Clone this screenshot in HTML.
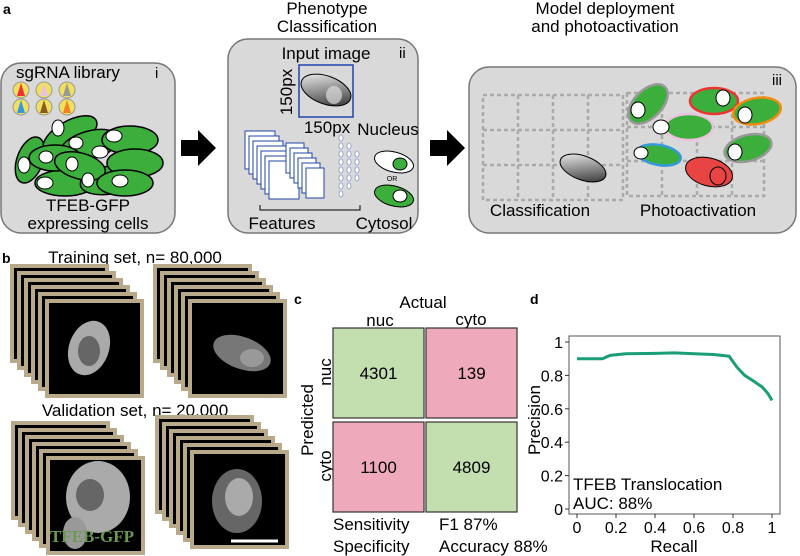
<!DOCTYPE html>
<html><head><meta charset="utf-8"><style>
body{margin:0;background:#fff;}
svg{display:block;font-family:"Liberation Sans",Arial,sans-serif;}
</style></head><body>
<svg width="800" height="556" viewBox="0 0 800 556">
<defs>
<linearGradient id="gcell" x1="0" y1="0" x2="1" y2="1"><stop offset="0" stop-color="#fff"/><stop offset="1" stop-color="#222"/></linearGradient>
</defs>
<!-- Panel a -->
<text x="3" y="14" font-size="14" font-weight="bold">a</text>
<g>
<rect x="1" y="63" width="174" height="170" rx="20" fill="#d9d9d9" stroke="#777" stroke-width="1.5"/>
<text x="16" y="78" font-size="17">sgRNA library</text>
<text x="155" y="78" font-size="15">i</text>
<g>
<circle cx="21" cy="90" r="8" fill="#f0e060" stroke="#999"/><path d="M21 83 L25 96 L17 96Z" fill="#e33"/>
<circle cx="44" cy="90" r="8" fill="#f0e060" stroke="#999"/><path d="M44 83 L48 96 L40 96Z" fill="#e8c0e0"/>
<circle cx="67" cy="90" r="8" fill="#f0e060" stroke="#999"/><path d="M67 83 L71 96 L63 96Z" fill="#999"/>
<circle cx="21" cy="107" r="8" fill="#f0e060" stroke="#999"/><path d="M21 100 L25 113 L17 113Z" fill="#3399dd"/>
<circle cx="44" cy="107" r="8" fill="#f0e060" stroke="#999"/><path d="M44 100 L48 113 L40 113Z" fill="#8a5a20"/>
<circle cx="67" cy="107" r="8" fill="#f0e060" stroke="#999"/><path d="M67 100 L71 113 L63 113Z" fill="#f08020"/>
</g>
<g fill="#3cae3c" stroke="#000" stroke-width="1.5">
<ellipse cx="30" cy="160" rx="13" ry="24" transform="rotate(20 30 160)"/>
<ellipse cx="65" cy="183" rx="30" ry="13"/>
<ellipse cx="110" cy="180" rx="30" ry="14" transform="rotate(-10 110 180)"/>
<ellipse cx="70" cy="135" rx="30" ry="14" transform="rotate(-30 70 135)"/>
<ellipse cx="90" cy="145" rx="30" ry="14" transform="rotate(-15 90 145)"/>
<ellipse cx="130" cy="140" rx="28" ry="14"/>
<ellipse cx="135" cy="163" rx="28" ry="14"/>
<ellipse cx="55" cy="158" rx="26" ry="13"/>
<ellipse cx="80" cy="166" rx="26" ry="13" transform="rotate(15 80 166)"/>
<ellipse cx="125" cy="183" rx="28" ry="13"/>
</g>
<g fill="#fff" stroke="#000">
<ellipse cx="24" cy="165" rx="6" ry="8"/><ellipse cx="45" cy="183" rx="8" ry="6"/><ellipse cx="58" cy="128" rx="6" ry="8"/>
<ellipse cx="76" cy="143" rx="7" ry="6"/><ellipse cx="46" cy="157" rx="7" ry="6"/><ellipse cx="72" cy="164" rx="6" ry="7"/>
<ellipse cx="114" cy="136" rx="8" ry="6"/><ellipse cx="100" cy="152" rx="8" ry="6"/><ellipse cx="120" cy="181" rx="8" ry="6"/><ellipse cx="88" cy="180" rx="6" ry="7"/>
</g>
<text x="88" y="211" font-size="17" text-anchor="middle">TFEB-GFP</text>
<text x="88" y="229" font-size="17" text-anchor="middle">expressing cells</text>
</g>
<path d="M181 140 L198 140 L198 130 L216 148 L198 166 L198 156 L181 156Z" fill="#000"/>
<text x="327" y="14" font-size="17" text-anchor="middle">Phenotype</text>
<text x="327" y="32" font-size="17" text-anchor="middle">Classification</text>
<g>
<rect x="228" y="39" width="190" height="194" rx="20" fill="#d9d9d9" stroke="#777" stroke-width="1.5"/>
<text x="326" y="59" font-size="17" text-anchor="middle">Input image</text>
<text x="399" y="58" font-size="15">ii</text>
<rect x="299" y="65" width="54" height="52" fill="none" stroke="#2244aa" stroke-width="1.5"/>
<ellipse cx="326" cy="90" rx="26" ry="14" transform="rotate(20 326 90)" fill="url(#gcell)" stroke="#000"/>
<ellipse cx="334" cy="95" rx="8" ry="9" fill="#ddd" opacity="0.7"/>
<text x="292" y="92" font-size="17" text-anchor="middle" transform="rotate(-90 292 92)">150px</text>
<text x="327" y="133" font-size="17" text-anchor="middle">150px</text>
<text x="388" y="135" font-size="17" text-anchor="middle">Nucleus</text>
<g fill="#fff" stroke="#2244aa">
<rect x="245" y="131" width="30" height="38"/><rect x="249" y="136" width="30" height="38"/><rect x="253" y="141" width="30" height="38"/><rect x="257" y="146" width="30" height="38"/><rect x="261" y="151" width="30" height="38"/><rect x="265" y="156" width="30" height="38"/><rect x="269" y="161" width="30" height="38"/>
<rect x="286" y="143" width="18" height="30"/><rect x="290" y="148" width="18" height="30"/><rect x="294" y="153" width="18" height="30"/><rect x="298" y="158" width="18" height="30"/><rect x="302" y="163" width="18" height="30"/><rect x="306" y="168" width="18" height="30"/>
</g>
<g fill="#fff" stroke="#8899cc" stroke-width="0.8">
<ellipse cx="341" cy="138" rx="2" ry="3"/><ellipse cx="341" cy="146" rx="2" ry="3"/><ellipse cx="341" cy="154" rx="2" ry="3"/><ellipse cx="341" cy="162" rx="2" ry="3"/><ellipse cx="341" cy="170" rx="2" ry="3"/><ellipse cx="341" cy="178" rx="2" ry="3"/><ellipse cx="341" cy="186" rx="2" ry="3"/><ellipse cx="341" cy="194" rx="2" ry="3"/>
<ellipse cx="349" cy="146" rx="2" ry="3"/><ellipse cx="349" cy="154" rx="2" ry="3"/><ellipse cx="349" cy="162" rx="2" ry="3"/><ellipse cx="349" cy="170" rx="2" ry="3"/><ellipse cx="349" cy="178" rx="2" ry="3"/><ellipse cx="349" cy="186" rx="2" ry="3"/>
<ellipse cx="357" cy="154" rx="2" ry="3"/><ellipse cx="357" cy="162" rx="2" ry="3"/><ellipse cx="357" cy="170" rx="2" ry="3"/><ellipse cx="357" cy="178" rx="2" ry="3"/>
</g>
<path d="M260 205 L260 210 L360 210 L360 205" fill="none" stroke="#000"/>
<ellipse cx="394" cy="162" rx="20" ry="10" transform="rotate(15 394 162)" fill="#fff" stroke="#000"/>
<ellipse cx="400" cy="164" rx="7" ry="6" fill="#3cae3c" stroke="#000"/>
<text x="392" y="181" font-size="7" text-anchor="middle">OR</text>
<ellipse cx="394" cy="196" rx="20" ry="10" transform="rotate(15 394 196)" fill="#3cae3c" stroke="#000"/>
<ellipse cx="400" cy="196" rx="7" ry="6" fill="#fff" stroke="#000"/>
<text x="282" y="229" font-size="17" text-anchor="middle">Features</text>
<text x="384" y="229" font-size="17" text-anchor="middle">Cytosol</text>
</g>
<path d="M430 140 L447 140 L447 130 L465 148 L447 166 L447 156 L430 156Z" fill="#000"/>
<text x="605" y="14" font-size="17" text-anchor="middle">Model deployment</text>
<text x="605" y="32" font-size="17" text-anchor="middle">and photoactivation</text>
<g>
<rect x="469" y="67" width="327" height="166" rx="20" fill="#d9d9d9" stroke="#777" stroke-width="1.5"/>
<text x="772" y="85" font-size="15">iii</text>
<g stroke="#aaa" stroke-width="2.5" stroke-dasharray="4 3" fill="none">
<rect x="483" y="95" width="140" height="105"/><line x1="518" y1="95" x2="518" y2="200"/><line x1="553" y1="95" x2="553" y2="200"/><line x1="588" y1="95" x2="588" y2="200"/><line x1="483" y1="130" x2="623" y2="130"/><line x1="483" y1="165" x2="623" y2="165"/>
<rect x="627" y="93" width="137" height="103"/><line x1="662" y1="93" x2="662" y2="196"/><line x1="697" y1="93" x2="697" y2="196"/><line x1="732" y1="93" x2="732" y2="196"/><line x1="627" y1="127" x2="764" y2="127"/><line x1="627" y1="161" x2="764" y2="161"/>
</g>
<ellipse cx="583" cy="168" rx="24" ry="12" transform="rotate(20 583 168)" fill="url(#gcell)" stroke="#000"/>
<g stroke-width="2.5">
<ellipse cx="648" cy="104" rx="14" ry="24" transform="rotate(45 648 104)" fill="#3cae3c" stroke="#999"/>
<ellipse cx="689" cy="127" rx="24" ry="13" fill="#3cae3c" stroke="#eec0e0"/>
<ellipse cx="714" cy="101" rx="24" ry="13" fill="#3cae3c" stroke="#e33"/>
<ellipse cx="757" cy="111" rx="24" ry="13" transform="rotate(-10 757 111)" fill="#3cae3c" stroke="#f08c10"/>
<ellipse cx="659" cy="155" rx="22" ry="10" transform="rotate(10 659 155)" fill="#3cae3c" stroke="#3399dd"/>
<ellipse cx="748" cy="148" rx="24" ry="13" transform="rotate(-15 748 148)" fill="#3cae3c" stroke="#999"/>
<ellipse cx="709" cy="172" rx="24" ry="14" transform="rotate(15 709 172)" fill="#e84444" stroke="#000" stroke-width="1"/>
</g>
<g fill="#fff" stroke="#000">
<ellipse cx="638" cy="110" rx="7" ry="8"/><ellipse cx="661" cy="127" rx="8" ry="7"/><ellipse cx="723" cy="98" rx="7" ry="8"/><ellipse cx="745" cy="115" rx="7" ry="8"/><ellipse cx="641" cy="153" rx="7" ry="6"/><ellipse cx="735" cy="152" rx="7" ry="8"/>
<ellipse cx="718" cy="176" rx="8" ry="9" fill="none"/>
</g>
<text x="540" y="216" font-size="17" text-anchor="middle">Classification</text>
<text x="698" y="216" font-size="17" text-anchor="middle">Photoactivation</text>
</g>
<!-- Panel b -->
<text x="2" y="263" font-size="14" font-weight="bold">b</text>
<text x="135" y="263" font-size="17" text-anchor="middle">Training set, n= 80,000</text>
<text x="135" y="416" font-size="17" text-anchor="middle">Validation set, n= 20,000</text>
<g id="stacks"></g>
<text x="92" y="542" font-size="17" font-weight="bold" fill="#6a9a50" font-family="Liberation Serif,serif" text-anchor="middle">TFEB-GFP</text>
<line x1="231" y1="541" x2="278" y2="541" stroke="#fff" stroke-width="3"/>
<!-- Panel c -->
<text x="294" y="304" font-size="14" font-weight="bold">c</text>
<text x="423" y="308" font-size="17" text-anchor="middle">Actual</text>
<text x="380" y="326" font-size="17" text-anchor="middle">nuc</text>
<text x="471" y="325" font-size="17" text-anchor="middle">cyto</text>
<text x="313" y="420" font-size="17" text-anchor="middle" transform="rotate(-90 313 420)">Predicted</text>
<text x="331" y="372" font-size="17" text-anchor="middle" transform="rotate(-90 331 372)">nuc</text>
<text x="331" y="466" font-size="17" text-anchor="middle" transform="rotate(-90 331 466)">cyto</text>
<g id="cm"></g>
<text x="333" y="530" font-size="17">Sensitivity</text>
<text x="439" y="530" font-size="17">F1 87%</text>
<text x="333" y="552" font-size="17">Specificity</text>
<text x="439" y="552" font-size="17">Accuracy 88%</text>
<!-- Panel d -->
<text x="530" y="304" font-size="14" font-weight="bold">d</text>
<g id="pr"></g>
</svg>
<script>
var cmValues=[[4301,139],[1100,4809]];
var prRecall=[0,0.13,0.17,0.25,0.4,0.5,0.6,0.7,0.78,0.82,0.86,0.9,0.95,0.98,1.0];
var prPrecision=[0.9,0.9,0.92,0.93,0.932,0.935,0.93,0.925,0.915,0.85,0.8,0.77,0.73,0.69,0.65];
var xTicks=[0,0.2,0.4,0.6,0.8,1];
var yTicks=[0,0.2,0.4,0.6,0.8,1];
var NS="http://www.w3.org/2000/svg";
function mk(t,a,p){var e=document.createElementNS(NS,t);for(var k in a)e.setAttribute(k,a[k]);p.appendChild(e);return e;}
var st=document.getElementById('stacks');
[[47,301,1],[190,301,2],[48,458,3],[192,452,4]].forEach(function(s){
 for(var i=5;i>=0;i--){
  var x=s[0]-i*7,y=s[1]-i*7;
  var r=mk('rect',{x:x,y:y,width:95,height:95,fill:'#000',stroke:'#b8a98a','stroke-width':4},st);
  
  
 }
 var cx=s[0]+47,cy=s[1]+47;
 if(s[2]==1){mk('ellipse',{cx:cx-5,cy:cy,rx:20,ry:28,fill:'#aaa',transform:'rotate(20 '+(cx-5)+' '+cy+')'},st);mk('ellipse',{cx:cx-5,cy:cy+3,rx:11,ry:15,fill:'#666'},st);}
 if(s[2]==2){mk('ellipse',{cx:cx+5,cy:cy+5,rx:30,ry:16,fill:'#777',transform:'rotate(20 '+(cx+5)+' '+(cy+5)+')'},st);mk('ellipse',{cx:cx+15,cy:cy+10,rx:12,ry:9,fill:'#999'},st);}
 if(s[2]==3){mk('ellipse',{cx:cx+3,cy:cy-8,rx:32,ry:36,fill:'#aaa'},st);mk('ellipse',{cx:cx-5,cy:cy-10,rx:14,ry:16,fill:'#666'},st);mk('ellipse',{cx:cx-20,cy:cy+28,rx:12,ry:16,fill:'#999'},st);}
 if(s[2]==4){mk('ellipse',{cx:cx-2,cy:cy+2,rx:25,ry:32,fill:'#666'},st);mk('ellipse',{cx:cx,cy:cy-2,rx:14,ry:19,fill:'#aaa'},st);}
});
var cm=document.getElementById('cm');
var cx0=[333,426],cy0=[328,422],cw=91,ch=90;
for(var r=0;r<2;r++)for(var c=0;c<2;c++){
 var rc=mk('rect',{x:cx0[c],y:cy0[r],width:cw,height:ch,fill:(r==c?'#c3dfb0':'#eeaabb'),stroke:'#333','stroke-width':1.2},cm);
 
 
 var t=mk('text',{x:cx0[c]+cw/2,y:cy0[r]+ch/2+6,'font-size':17,'text-anchor':'middle'},cm);t.textContent=cmValues[r][c];
 
 
}
var pr=document.getElementById('pr');
function X(v){return 577+v*195;}
function Y(v){return 509-v*167;}
mk('rect',{x:569,y:336,width:211,height:178,fill:'none',stroke:'#555','stroke-width':1},pr);
xTicks.forEach(function(v){mk('line',{x1:X(v),y1:514,x2:X(v),y2:518,stroke:'#333'},pr);var t=mk('text',{x:X(v),y:533,'font-size':16,'text-anchor':'middle'},pr);t.textContent=String(v);
 
 });
yTicks.forEach(function(v){mk('line',{x1:565,y1:Y(v),x2:569,y2:Y(v),stroke:'#333'},pr);var t=mk('text',{x:563,y:Y(v)+6,'font-size':16,'text-anchor':'end'},pr);t.textContent=String(v);
 
 });
var d='';prRecall.forEach(function(v,i){d+=(i?'L':'M')+X(v).toFixed(1)+' '+Y(prPrecision[i]).toFixed(1);});
var ln=mk('path',{d:d,fill:'none',stroke:'#1a9e77','stroke-width':3},pr);


var xt=mk('text',{x:674,y:552,'font-size':17,'text-anchor':'middle'},pr);xt.textContent='Recall';


var yt=mk('text',{x:540,y:420,'font-size':17,'text-anchor':'middle',transform:'rotate(-90 540 420)'},pr);yt.textContent='Precision';


var a1=mk('text',{x:573,y:490,'font-size':17},pr);a1.textContent='TFEB Translocation';


var a2=mk('text',{x:573,y:509,'font-size':17},pr);a2.textContent='AUC: 88%';


</script>
</body></html>
